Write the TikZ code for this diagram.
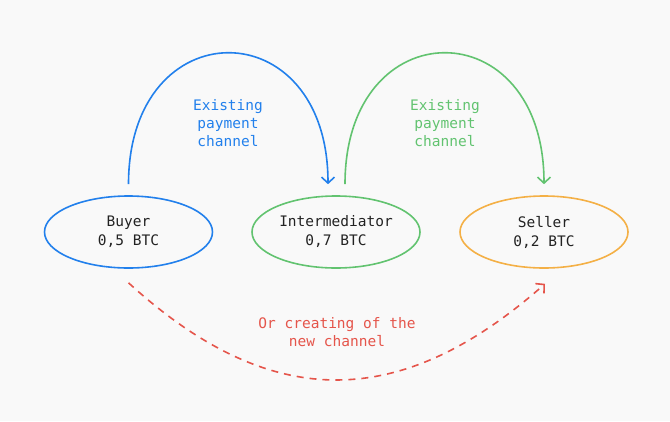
\documentclass[tikz,border=0pt]{standalone}
\usepackage{fontspec}
\setmonofont{DejaVu Sans Mono}
\usetikzlibrary{shapes.geometric,arrows.meta}
\definecolor{bg}{HTML}{F9F9F9}
\definecolor{cblue}{HTML}{2280EC}
\definecolor{cgreen}{HTML}{62C370}
\definecolor{corange}{HTML}{F4B046}
\definecolor{cred}{HTML}{E5554B}
\definecolor{ctext}{HTML}{222222}
\tikzset{
  party/.style={ellipse, draw, line width=1.6pt, minimum width=168pt, minimum height=72pt, inner sep=0pt, align=center, text=ctext, font=\fontsize{14.5}{19}\selectfont\ttfamily},
  lbl/.style={align=center, font=\fontsize{14.5}{18}\selectfont\ttfamily},
  conn/.style={line width=1.6pt, -{Straight Barb[length=6pt,width=13pt,line width=1.6pt]}},
}
\begin{document}
\begin{tikzpicture}[x=1pt,y=-1pt]
\fill[bg] (0,0) rectangle (670,421);
\useasboundingbox (0,0) rectangle (670,421);
\node[party, draw=cblue] (buyer) at (128.5,232) {Buyer\\0,5 BTC};
\node[party, draw=cgreen] (inter) at (336,232) {Intermediator\\0,7 BTC};
\node[party, draw=corange] (seller) at (544,232) {Seller\\0,2 BTC};
\coordinate (b1) at ([yshift=11pt]buyer.north);
\coordinate (i1) at ([xshift=-8pt,yshift=11pt]inter.north);
\coordinate (i2) at ([xshift=9pt,yshift=11pt]inter.north);
\coordinate (s1) at ([yshift=11pt]seller.north);
\coordinate (b2) at ([yshift=-14pt]buyer.south);
\coordinate (s2) at ([xshift=1pt,yshift=-15pt]seller.south);
\draw[conn, cblue] (b1) .. controls ++(0,-175) and ++(0,-175) .. (i1);
\draw[conn, cgreen] (i2) .. controls ++(0,-175) and ++(0,-175) .. (s1);
\draw[conn, cred, dash pattern=on 7pt off 6pt] (b2) .. controls (270,412) and (400,412) .. (s2);
\node[lbl, text=cblue] (t1) at (228,123) {Existing\\payment\\channel};
\node[lbl, text=cgreen] (t2) at (445,123) {Existing\\payment\\channel};
\node[lbl, text=cred] (t3) at (337,332) {Or creating of the\\new channel};
\end{tikzpicture}
\end{document}
